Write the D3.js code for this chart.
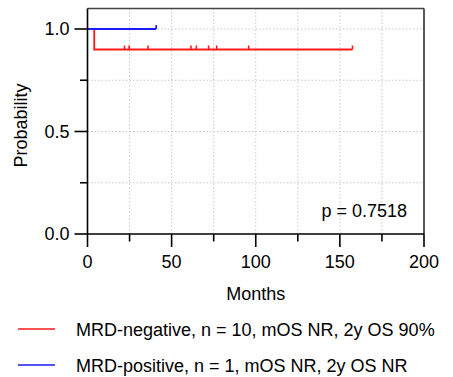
<!DOCTYPE html>
<html><head><meta charset="utf-8">
<script src="https://cdn.jsdelivr.net/npm/d3@7"></script>
<style>body{margin:0;background:#fff}svg{display:block}text{font-family:Arial,"Liberation Sans",sans-serif;fill:#000}</style>
</head><body><svg id="c" width="453" height="377"></svg>
<script>
const seriesNames = ["MRD-negative, n = 10, mOS NR, 2y OS 90%", "MRD-positive, n = 1, mOS NR, 2y OS NR"];
const seriesColors = ["#ff1a1a", "#1a1aff"];
// times in months, event 1 = death, 0 = censored
const negTimes  = [4, 22, 24.7, 36, 61.5, 64.7, 72, 76.8, 95.8, 157.5];
const negEvents = [1, 0, 0, 0, 0, 0, 0, 0, 0, 0];
const posTimes  = [40.8];
const posEvents = [0];
const xTicks = [0, 50, 100, 150, 200];
const xMinor = [25, 75, 125, 175];
const yTicks = [0, 0.5, 1.0];
const yMinor = [0.25, 0.75];
const pLabel = "p = 0.7518";

const svg = d3.select("#c");
const x = d3.scaleLinear().domain([0, 200]).range([87.5, 424]);
const y = d3.scaleLinear().domain([0, 1.1]).range([234, 8.5]);

// grid
const g = svg.append("g");
[...xMinor, ...xTicks.slice(1, -1)].forEach(v => {
  g.append("line").attr("x1", x(v)).attr("x2", x(v)).attr("y1", y(0)).attr("y2", y(1.1))
   .attr("stroke", "#c8c8c8").attr("stroke-width", 1).attr("stroke-dasharray", "1.5,2");
});
[...yMinor, 0.5, 1.0].forEach(v => {
  g.append("line").attr("x1", x(0)).attr("x2", x(200)).attr("y1", y(v)).attr("y2", y(v))
   .attr("stroke", "#c8c8c8").attr("stroke-width", 1).attr("stroke-dasharray", "1.5,2");
});

// frame top/right
svg.append("line").attr("x1", x(0)).attr("x2", x(200)).attr("y1", y(1.1)).attr("y2", y(1.1)).attr("stroke", "#444").attr("stroke-width", 1.5);
svg.append("line").attr("x1", x(200)).attr("x2", x(200)).attr("y1", y(1.1)).attr("y2", y(0)).attr("stroke", "#222").attr("stroke-width", 1.5);

// KM
function km(times, events) {
  const n = times.length;
  let s = 1, atRisk = n;
  const pts = [[0, 1]], cens = [];
  const idx = d3.range(n).sort((a, b) => times[a] - times[b]);
  idx.forEach(i => {
    if (events[i]) { pts.push([times[i], s]); s = s * (atRisk - 1) / atRisk; pts.push([times[i], s]); }
    else cens.push([times[i], s]);
    atRisk--;
  });
  pts.push([d3.max(times), s]);
  return {pts, cens};
}
const curves = [km(negTimes, negEvents), km(posTimes, posEvents)];
const line = d3.line().x(d => x(d[0])).y(d => y(d[1]));
curves.forEach((c, i) => {
  svg.append("path").attr("d", line(c.pts)).attr("fill", "none").attr("stroke", seriesColors[i]).attr("stroke-width", 1.8);
  c.cens.forEach(p => {
    svg.append("line").attr("x1", x(p[0])).attr("x2", x(p[0])).attr("y1", y(p[1])).attr("y2", y(p[1]) - 4)
      .attr("stroke", seriesColors[i]).attr("stroke-width", 1.6);
  });
});

// axes
const xa = svg.append("g").attr("transform", `translate(0,${y(0)})`);
xa.append("line").attr("x1", x(0)).attr("x2", x(200)).attr("stroke", "#000").attr("stroke-width", 1.6);
xTicks.forEach(v => {
  xa.append("line").attr("x1", x(v)).attr("x2", x(v)).attr("y1", 0).attr("y2", 13).attr("stroke", "#000").attr("stroke-width", 1.6);
  xa.append("text").attr("x", x(v)).attr("y", 34).attr("text-anchor", "middle").attr("font-size", 18).text(v);
});
xMinor.forEach(v => {
  xa.append("line").attr("x1", x(v)).attr("x2", x(v)).attr("y1", 0).attr("y2", 7.5).attr("stroke", "#000").attr("stroke-width", 1.6);
});
const ya = svg.append("g").attr("transform", `translate(${x(0)},0)`);
ya.append("line").attr("y1", y(0)).attr("y2", y(1.1)).attr("stroke", "#000").attr("stroke-width", 1.6);
yTicks.forEach(v => {
  ya.append("line").attr("x1", -13).attr("x2", 0).attr("y1", y(v)).attr("y2", y(v)).attr("stroke", "#000").attr("stroke-width", 1.6);
  ya.append("text").attr("x", -18).attr("y", y(v)).attr("dy", "0.36em").attr("text-anchor", "end").attr("font-size", 18).text(v.toFixed(1));
});
yMinor.forEach(v => {
  ya.append("line").attr("x1", -7.5).attr("x2", 0).attr("y1", y(v)).attr("y2", y(v)).attr("stroke", "#000").attr("stroke-width", 1.6);
});

svg.append("text").attr("transform", `translate(27,${y(0.5) - 6}) rotate(-90)`).attr("text-anchor", "middle").attr("font-size", 18).text("Probability");
svg.append("text").attr("x", (x(0) + x(200)) / 2).attr("y", 300).attr("text-anchor", "middle").attr("font-size", 18).text("Months");
svg.append("text").attr("x", 407).attr("y", 217).attr("text-anchor", "end").attr("font-size", 18).text(pLabel);

// legend
seriesNames.forEach((name, i) => {
  const ly = 329 + i * 36;
  svg.append("line").attr("x1", 18).attr("x2", 55).attr("y1", ly).attr("y2", ly).attr("stroke", seriesColors[i]).attr("stroke-width", 1.6);
  svg.append("text").attr("x", 76).attr("y", ly + 7).attr("font-size", 18).text(name);
});
</script></body></html>
